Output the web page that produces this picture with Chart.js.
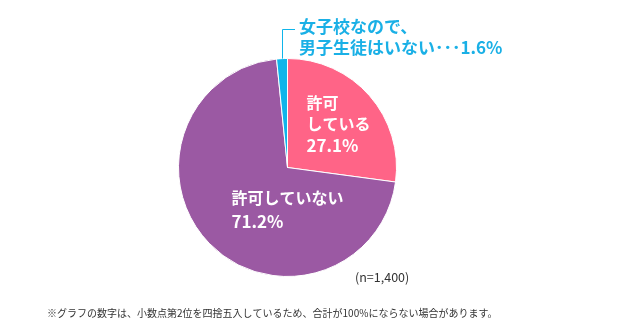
<!DOCTYPE html>
<html>
<head>
<meta charset="utf-8">
<style>
  body { margin: 0; background: #fff; }
  #wrap { position: relative; width: 619px; height: 336px; }
</style>
</head>
<body>
<div id="wrap"><canvas id="pie" width="619" height="336"></canvas></div>
<script src="https://cdn.jsdelivr.net/npm/chart.js@4.4.0/dist/chart.umd.min.js"></script>
<script>
// data
const categories = ['許可している', '許可していない', '女子校なので、男子生徒はいない'];
const values = [27.1, 71.2, 1.6];
const colors = ['#ff6487', '#9b59a3', '#0fb5ea'];
const sampleNote = '(n=1,400)';
const footNote = '※グラフの数字は、小数点第2位を四捨五入しているため、合計が100%にならない場合があります。';

const FONT = '"Noto Sans CJK JP", "Noto Sans", sans-serif';

// labels drawn on top of the slices, offsets from the pie centre
const labelPlugin = {
  id: 'pieLabels',
  afterDatasetsDraw(chart) {
    const ctx = chart.ctx;
    const arc = chart.getDatasetMeta(0).data[0];
    const cx = arc.x, cy = arc.y;
    ctx.save();
    ctx.textBaseline = 'middle';
    ctx.textAlign = 'left';

    // pink slice
    ctx.fillStyle = '#fff';
    ctx.font = 'bold 16px ' + FONT;
    ctx.fillText('許可', cx + 19, cy - 65);
    ctx.fillText('している', cx + 19, cy - 44);
    ctx.font = 'bold 17px ' + FONT;
    ctx.fillText(values[0].toFixed(1) + '%', cx + 19, cy - 22);

    // purple slice
    ctx.font = 'bold 16px ' + FONT;
    ctx.fillText('許可していない', cx - 56, cy + 30);
    ctx.font = 'bold 17px ' + FONT;
    ctx.fillText(values[1].toFixed(1) + '%', cx - 56, cy + 54);

    // small cyan slice, with leader line
    const small = chart.getDatasetMeta(0).data[2];
    const mid = (small.startAngle + small.endAngle) / 2;
    const lx = cx + Math.cos(mid) * small.outerRadius;
    const ly = cy + Math.sin(mid) * small.outerRadius;
    ctx.strokeStyle = colors[2];
    ctx.lineWidth = 1;
    ctx.beginPath();
    ctx.moveTo(Math.round(lx) + 0.5, ly);
    ctx.lineTo(Math.round(lx) + 0.5, 29.5);
    ctx.lineTo(Math.round(lx) + 13, 29.5);
    ctx.stroke();
    ctx.fillStyle = '#1ab0e6';
    ctx.font = 'bold 17px ' + FONT;
    ctx.fillText('女子校なので、', lx + 17, 27);
    ctx.fillText('男子生徒はいない･･･' + values[2].toFixed(1) + '%', lx + 17, 48);

    // notes
    ctx.fillStyle = '#333';
    ctx.font = '12.5px ' + FONT;
    ctx.fillText(sampleNote, 355, 277);
    ctx.font = '10px ' + FONT;
    ctx.fillText(footNote, 47, 313);
    ctx.restore();
  }
};

new Chart(document.getElementById('pie'), {
  type: 'pie',
  data: {
    labels: categories,
    datasets: [{
      data: values,
      backgroundColor: colors,
      borderColor: '#fff',
      borderWidth: 1
    }]
  },
  options: {
    responsive: false,
    animation: false,
    layout: { padding: { left: 178, right: 222, top: 58, bottom: 59 } },
    plugins: { legend: { display: false }, tooltip: { enabled: false } }
  },
  plugins: [labelPlugin]
});
</script>
</body>
</html>
